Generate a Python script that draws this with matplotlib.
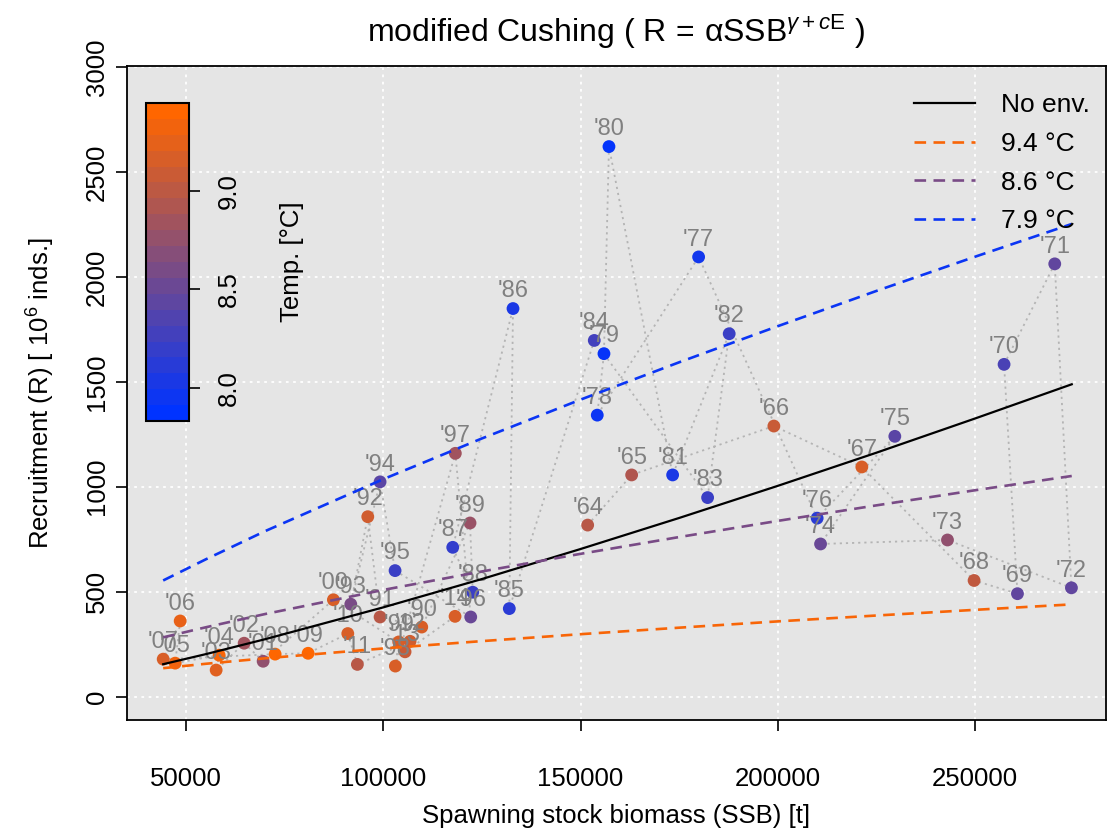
import matplotlib
matplotlib.use('Agg')
import matplotlib.pyplot as plt
import numpy as np
from matplotlib.colors import LinearSegmentedColormap, Normalize, ListedColormap
from matplotlib.lines import Line2D

plt.rcParams['font.family'] = ['Liberation Sans', 'DejaVu Sans']
plt.rcParams['mathtext.fontset'] = 'custom'
plt.rcParams['mathtext.rm'] = 'Liberation Sans'
plt.rcParams['mathtext.it'] = 'Liberation Sans:italic'
plt.rcParams['mathtext.bf'] = 'Liberation Sans:bold'

# ---------------- data ----------------
years = [1964, 1965, 1966, 1967, 1968, 1969, 1970, 1971, 1972, 1973,
         1974, 1975, 1976, 1977, 1978, 1979, 1980, 1981, 1982, 1983,
         1984, 1985, 1986, 1987, 1988, 1989, 1990, 1991, 1992, 1993,
         1994, 1995, 1996, 1997, 1998, 1999, 2000, 2001, 2002, 2003,
         2004, 2005, 2006, 2007, 2008, 2009, 2010, 2011, 2012, 2013, 2014]

ssb = [151791, 162940, 198999, 221298, 249755, 260753, 257357, 270205, 274436, 243015,
       210833, 229661, 209971, 179918, 154223, 155921, 157188, 173330, 187672, 182199,
       153463, 131924, 132862, 117582, 122650, 121966, 109726, 99160, 96043, 91735,
       99160, 102961, 122143, 118241, 103037, 103898, 87326, 69512, 64697, 57602,
       58362, 47213, 48480, 44172, 72553, 80915, 90975, 93407, 106762, 105495, 118165]

recruitment = [817, 1056, 1289, 1094, 553, 490, 1583, 2062, 518, 746,
               727, 1240, 850, 2095, 1341, 1634, 2621, 1056, 1729, 948,
               1697, 419, 1849, 711, 497, 827, 331, 379, 857, 440,
               1023, 600, 379, 1159, 145, 260, 461, 168, 254, 126,
               197, 159, 360, 178, 202, 206, 300, 153, 263, 213, 382]

temperature = [9.0, 8.95, 9.1, 9.2, 9.05, 8.45, 8.3, 8.45, 8.45, 8.75,
               8.5, 8.4, 8.1, 7.95, 7.9, 7.88, 7.85, 8.0, 8.2, 8.2,
               8.25, 8.1, 8.0, 8.15, 8.2, 8.8, 9.2, 9.0, 9.15, 8.6,
               8.4, 8.2, 8.5, 8.85, 9.2, 9.2, 9.2, 8.75, 8.85, 9.25,
               9.4, 9.35, 9.3, 9.2, 9.44, 9.44, 9.2, 9.0, 9.15, 9.1, 9.2]

# fitted curves
ssb_fit = [44172, 55000, 70000, 100000, 125000, 150000, 175000, 200000, 225000, 250000, 274512]
r_noenv = [154, 202, 273, 425, 560, 703, 851, 1004, 1162, 1325, 1488]
r_94 = [135, 156, 182, 229, 264, 297, 328, 358, 386, 413, 439]
r_86 = [282, 330, 393, 508, 596, 680, 760, 837, 911, 983, 1051]
r_79 = [553, 654, 788, 1036, 1230, 1415, 1593, 1765, 1933, 2096, 2252]

legend_labels = ['No env.', '9.4 °C', '8.6 °C', '7.9 °C']
legend_temps = [9.4, 8.6, 7.9]

x_ticks = [50000, 100000, 150000, 200000, 250000]
y_ticks = [0, 500, 1000, 1500, 2000, 2500, 3000]
cbar_ticks = [8.0, 8.5, 9.0]
t_min, t_max = 7.83, 9.45

# ---------------- style ----------------
cmap = LinearSegmentedColormap.from_list('bo', ['#0033FF', '#FF6600'])
norm = Normalize(vmin=t_min, vmax=t_max)

W, H = 1112, 832
fig = plt.figure(figsize=(W / 100, H / 100), dpi=100)
ax = fig.add_axes([127 / W, 112 / H, 979 / W, 654 / H])
ax.set_facecolor('#E5E5E5')
ax.set_xlim(35000, 283200)
ax.set_ylim(-112, 3005)

ax.set_xticks(x_ticks)
ax.set_yticks(y_ticks)
ax.grid(True, color='white', linestyle=(0, (1.5, 2.5)), linewidth=1.3)
ax.set_axisbelow(True)
for s in ax.spines.values():
    s.set_linewidth(1.3)
ax.tick_params(axis='both', direction='out', length=8, width=1.2, labelsize=18.5)
ax.tick_params(axis='x', pad=26)
ax.tick_params(axis='y', pad=5)
for lab in ax.get_yticklabels():
    lab.set_rotation(90)
    lab.set_va('center')

# path between consecutive years
ax.plot(ssb, recruitment, color='#B4B4B4', linestyle=(0, (1.2, 2.2)), linewidth=1.3, zorder=2)

cols = cmap(norm(np.array(temperature)))
ax.scatter(ssb, recruitment, s=85, c=cols, edgecolors='none', zorder=3)

for yr, x, y in zip(years, ssb, recruitment):
    ax.annotate("'%02d" % (yr % 100), (x, y), xytext=(0, 4.5), textcoords='offset points',
                ha='center', va='bottom', fontsize=17, color='#808080', zorder=4)

ax.plot(ssb_fit, r_noenv, color='black', linewidth=1.6, zorder=5)
dash = (0, (4.4, 2.8))
for r, t in zip([r_94, r_86, r_79], legend_temps):
    ax.plot(ssb_fit, r, color=cmap(norm(t)), linewidth=1.9, linestyle=dash, zorder=5)

handles = [Line2D([], [], color='black', linewidth=1.6)] + \
          [Line2D([], [], color=cmap(norm(t)), linewidth=1.9, linestyle=dash) for t in legend_temps]
leg = ax.legend(handles, legend_labels, loc='upper right', frameon=False, fontsize=19,
                handlelength=2.3, handletextpad=1.0, labelspacing=0.56,
                bbox_to_anchor=(1.008, 0.995))

ax.set_xlabel('Spawning stock biomass (SSB) [t]', fontsize=18.5, labelpad=9)
ax.set_ylabel('Recruitment (R) [ 10$^{6}$ inds.]', fontsize=18.5, labelpad=20)
ax.set_title(r'modified Cushing ( R$\,=\,\mathrm{\alpha}$SSB$^{\gamma+\mathit{c}\mathrm{E}}$ )',
             fontsize=23, pad=17)

# ---------------- colour bar ----------------
cax = fig.add_axes([146 / W, (H - 421) / H, 43 / W, 318 / H])
nlev = 20
disc = ListedColormap(cmap(np.linspace(0, 1, nlev)))
sm = plt.cm.ScalarMappable(norm=norm, cmap=disc)
cb = fig.colorbar(sm, cax=cax, ticks=cbar_ticks)
cb.outline.set_linewidth(1.5)
cax.tick_params(direction='out', length=8, width=1.2, labelsize=18.5, pad=12)
cax.set_yticklabels(['%.1f' % v for v in cbar_ticks], rotation=90, va='center')
cb.set_label('Temp. [°C]', fontsize=18.5, labelpad=28)

fig.savefig('out.png', dpi=100)
